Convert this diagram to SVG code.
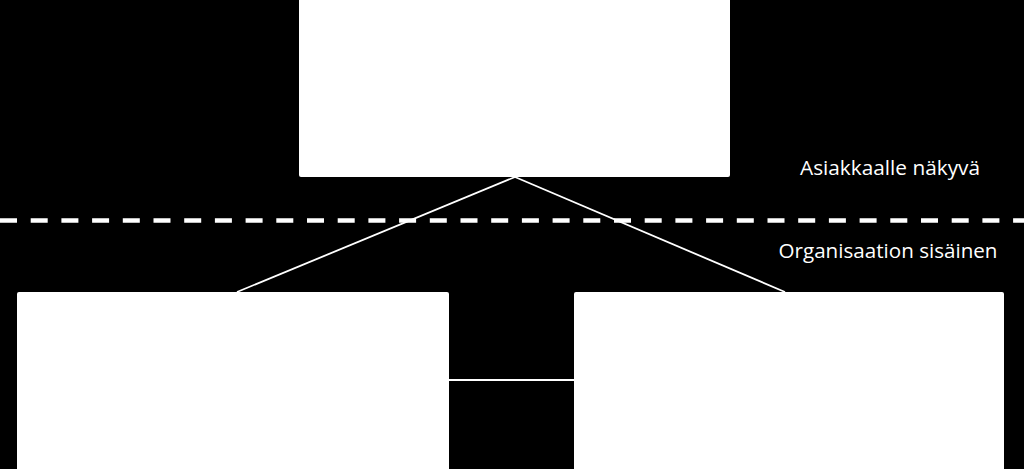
<svg xmlns="http://www.w3.org/2000/svg" width="1024" height="469" viewBox="0 0 1024 469">
<style>
.box{fill:#ffffff;stroke:none}
.conn{stroke:#ffffff;stroke-width:1.8;fill:none}
.lbl{fill:#ffffff;font-family:"Open Sans","Liberation Sans",sans-serif;font-size:19.5px;text-anchor:middle}
</style>
<rect x="0" y="0" width="1024" height="469" fill="#000000"/>
<g id="connectors">
<line class="conn" x1="515" y1="177" x2="237" y2="292"/>
<line class="conn" x1="515" y1="177" x2="785" y2="292"/>
<line class="conn" x1="449" y1="380" x2="574" y2="380"/>
</g>
<g id="divider">
<line x1="0" y1="220.5" x2="1024" y2="220.5" stroke="#ffffff" stroke-width="4.5" stroke-dasharray="17,13.7"/>
</g>
<g id="top">
<rect class="box" x="299" y="-3" width="431" height="180" rx="2"/>
</g>
<g id="left">
<rect class="box" x="17" y="292" width="432" height="180" rx="2"/>
</g>
<g id="right">
<rect class="box" x="574" y="292" width="430" height="180" rx="2"/>
</g>
<g id="labels">
<text class="lbl" x="890" y="175" textLength="180" lengthAdjust="spacingAndGlyphs">Asiakkaalle näkyvä</text>
<text class="lbl" x="888" y="258" textLength="219" lengthAdjust="spacingAndGlyphs">Organisaation sisäinen</text>
</g>
</svg>
